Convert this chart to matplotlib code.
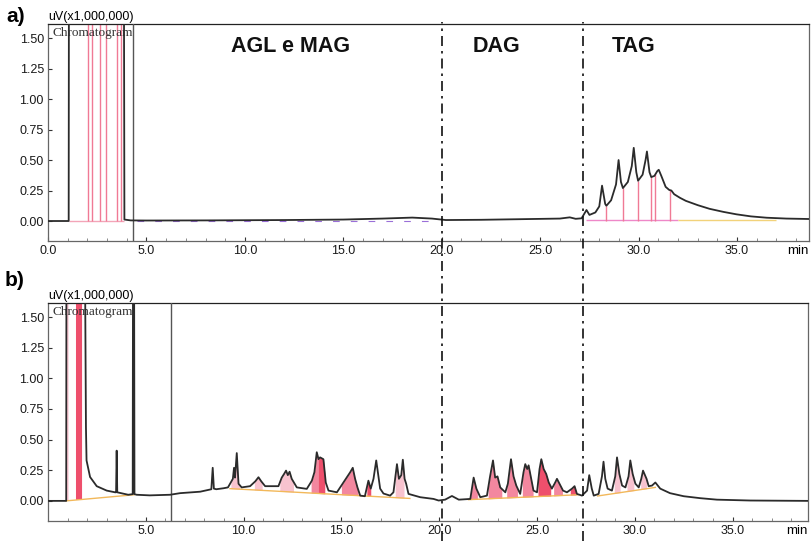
import numpy as np
import matplotlib.pyplot as plt
from matplotlib.lines import Line2D
from matplotlib.ticker import MultipleLocator
from matplotlib.transforms import blended_transform_factory

plt.rcParams['font.family'] = ['Liberation Sans', 'DejaVu Sans']

OFF = 5.0  # сигнал за пределами шкалы

# a) хроматограмма образца
time_a = [0.0, 1.05, 1.08, 3.82, 3.88, 4.2, 5.0, 8.0, 12.0, 15.0, 17.0, 18.5, 19.5,
          20.2, 22.0, 24.0, 26.0, 26.5, 26.8, 27.1, 27.35, 27.5, 27.8, 28.0, 28.14,
          28.3, 28.36, 28.6, 28.85, 28.98, 29.1, 29.2, 29.45, 29.65, 29.75, 29.88,
          29.97, 30.2, 30.35, 30.42, 30.55, 30.64, 30.8, 30.95, 31.02, 31.15, 31.37,
          31.55, 31.66, 31.8, 32.1, 32.4, 33.0, 33.6, 34.3, 34.96, 35.7, 36.5, 37.5, 38.8]
signal_a = [0.0, 0.0, OFF, OFF, 0.012, 0.005, 0.004, 0.005, 0.008, 0.012, 0.02, 0.028,
            0.02, 0.008, 0.01, 0.015, 0.02, 0.03, 0.018, 0.022, 0.09, 0.05, 0.07, 0.12,
            0.29, 0.14, 0.125, 0.17, 0.3, 0.50, 0.32, 0.27, 0.32, 0.45, 0.60, 0.40,
            0.33, 0.38, 0.5, 0.57, 0.40, 0.36, 0.37, 0.41, 0.42, 0.37, 0.28,
            0.255, 0.25, 0.22, 0.19, 0.165, 0.13, 0.10, 0.075, 0.055, 0.038, 0.027, 0.02, 0.016]
drops_a = [2.03, 2.23, 2.64, 2.94, 3.5, 3.7, 28.36, 29.2, 29.97, 30.64, 30.85, 31.57]
marker_a = 4.3

# b) хроматограмма второго образца
time_b = [0.0, 0.93, 0.96, 1.86, 1.9, 1.94, 1.97, 2.15, 2.49, 3.0, 3.43, 3.48, 3.51, 3.54,
          4.1, 4.33, 4.37, 4.42, 4.53, 5.2, 6.24, 6.75, 7.78, 8.35, 8.42, 8.48, 8.6,
          8.97, 9.2, 9.45, 9.51, 9.56, 9.65, 9.74, 9.9, 10.33, 10.6, 10.76, 10.9, 11.1,
          11.78, 11.95, 12.07, 12.17, 12.26, 12.35, 12.46, 12.72, 13.23, 13.49, 13.62,
          13.74, 13.83, 13.91, 14.08, 14.2, 14.34, 14.77, 15.1, 15.45, 15.58, 15.7,
          15.82, 15.96, 16.2, 16.38, 16.5, 16.64, 16.78, 16.9, 16.98, 17.15, 17.49,
          17.66, 17.84, 17.94, 18.06, 18.14, 18.23, 18.31, 18.43, 19.03, 19.71, 19.97,
          20.3, 20.65, 21.0, 21.59, 21.76, 21.9, 22.1, 22.44, 22.6, 22.75, 22.86, 22.98,
          23.12, 23.38, 23.51, 23.67, 23.8, 23.94, 24.14, 24.31, 24.4, 24.5, 24.57,
          24.69, 24.82, 25.0, 25.13, 25.22, 25.34, 25.47, 25.6, 25.76, 25.93, 26.02,
          26.15, 26.33, 26.53, 26.79, 26.92, 27.04, 27.3, 27.56, 27.67, 27.8, 27.9,
          28.15, 28.32, 28.4, 28.49, 28.61, 28.83, 29.0, 29.09, 29.21, 29.35, 29.52,
          29.68, 29.77, 29.89, 30.03, 30.2, 30.33, 30.42, 30.6, 30.71, 30.88, 31.05,
          31.3, 31.8, 32.5, 33.35, 34.2, 35.9, 38.85]
signal_b = [0.0, 0.0, OFF, OFF, 1.7, 0.6, 0.33, 0.195, 0.12, 0.084, 0.07, 0.07, 0.41, 0.07,
            0.05, 0.055, OFF, 0.055, 0.05, 0.045, 0.05, 0.063, 0.075, 0.095, 0.27, 0.1, 0.095,
            0.103, 0.11, 0.18, 0.27, 0.19, 0.39, 0.14, 0.11, 0.12, 0.16, 0.193, 0.16, 0.12,
            0.12, 0.19, 0.22, 0.247, 0.21, 0.238, 0.18, 0.11, 0.098, 0.165, 0.234,
            0.397, 0.34, 0.355, 0.34, 0.15, 0.084, 0.07, 0.15, 0.234, 0.27, 0.18,
            0.11, 0.043, 0.038, 0.165, 0.10, 0.18, 0.33, 0.19, 0.10, 0.06, 0.043,
            0.07, 0.30, 0.18, 0.21, 0.336, 0.18, 0.14, 0.057, 0.03, 0.016, 0.003,
            0.01, 0.04, 0.01, 0.016, 0.19, 0.10, 0.03, 0.043, 0.2, 0.33, 0.19, 0.2,
            0.11, 0.07, 0.14, 0.34, 0.2, 0.125, 0.057, 0.234, 0.30, 0.26, 0.29,
            0.19, 0.084, 0.07, 0.26, 0.34, 0.26, 0.22, 0.15, 0.10, 0.15, 0.18,
            0.14, 0.084, 0.07, 0.10, 0.12, 0.057, 0.043, 0.084, 0.21, 0.10, 0.043,
            0.057, 0.2, 0.32, 0.18, 0.10, 0.084, 0.2, 0.355, 0.22, 0.125, 0.11,
            0.2, 0.33, 0.22, 0.14, 0.11, 0.18, 0.247, 0.18, 0.12, 0.125, 0.15,
            0.10, 0.063, 0.038, 0.022, 0.01, 0.003, 0.0]
marker_b = 6.3

# линии базовой линии интегрирования: (начало, уровень, конец, уровень)
baselines_b = [(0.93, 0.0, 4.4, 0.05), (9.3, 0.10, 18.5, 0.02),
               (21.5, 0.01, 27.1, 0.05), (28.1, 0.04, 31.05, 0.11)]

# интегрированные пики: (начало, конец, цвет)
LIGHT, PINK, RED = '#f8c3cf', '#f3879f', '#ee4f6c'
peaks_b = [(0.93, 1.05, LIGHT), (1.43, 1.74, RED), (9.35, 9.8, LIGHT),
           (10.55, 10.95, LIGHT), (11.85, 12.55, LIGHT), (13.45, 13.8, PINK),
           (13.8, 14.15, RED), (15.0, 15.85, PINK), (16.3, 16.5, RED),
           (17.75, 18.2, LIGHT), (21.6, 21.95, PINK), (22.5, 23.2, PINK),
           (23.45, 24.0, PINK), (24.25, 24.8, PINK), (25.05, 25.7, RED),
           (25.85, 26.3, PINK), (26.7, 27.0, RED), (28.95, 29.25, LIGHT),
           (29.6, 29.95, LIGHT), (30.3, 30.6, LIGHT)]

# границы зон и подписи
zone_limits = [20.0, 27.15]
zone_names = ['AGL e MAG', 'DAG', 'TAG']
zone_centers = [12.3, 22.8, 29.75]


def setup_axes(ax, xticks, xlim):
    ax.set_xlim(*xlim)
    ax.set_ylim(-0.164, 1.615)
    ax.set_yticks(np.arange(0, 1.51, 0.25))
    ax.set_yticklabels([f'{v:.2f}' for v in np.arange(0, 1.51, 0.25)])
    ax.set_xticks(xticks)
    ax.set_xticklabels([f'{v:.1f}' for v in xticks])
    ax.xaxis.set_minor_locator(MultipleLocator(1))
    ax.tick_params(axis='both', which='major', labelsize=9, length=3,
                   direction='in', pad=3, colors='#333', labelcolor='#1a1a1a')
    ax.tick_params(axis='x', which='minor', length=2, direction='in', colors='#777')
    for s in ax.spines.values():
        s.set_color('#666')
        s.set_linewidth(0.9)
    ax.spines['top'].set_color('#222')
    ax.text(0.0, 1.005, 'uV(x1,000,000)', transform=ax.transAxes,
            ha='left', va='bottom', fontsize=9)
    ax.text(0.006, 0.985, 'Chromatogram', transform=ax.transAxes,
            ha='left', va='top', fontsize=9.5, family='Liberation Serif', color='#333')
    ax.text(1.0, -0.02, 'min', transform=ax.transAxes,
            ha='right', va='top', fontsize=9.5)


def fill_peak(ax, t, y, t0, t1, b, color):
    tt = np.concatenate([[t0], t[(t > t0) & (t < t1)], [t1]])
    yy = np.interp(tt, t, y)
    bb = np.interp(tt, [b[0], b[2]], [b[1], b[3]])
    ax.fill_between(tt, bb, yy, color=color, lw=0, zorder=2)


def main():
    fig = plt.figure(figsize=(8.11, 5.41), dpi=100)
    ax_a = fig.add_axes([0.0592, 0.5545, 0.9383, 0.4011])
    ax_b = fig.add_axes([0.0592, 0.0370, 0.9370, 0.4030])

    # --- a) ---
    setup_axes(ax_a, np.arange(0, 36, 5), (0, 38.65))
    ta, ya = np.array(time_a), np.array(signal_a)
    ax_a.hlines(0.0, 1.07, 3.85, color='#f3a5b8', lw=1, zorder=2)
    ax_a.hlines(0.006, 27.3, 32.0, color='#ee88c8', lw=1, zorder=2)
    ax_a.hlines(0.006, 32.0, 37.0, color='#f2d27a', lw=1, zorder=2)
    ax_a.hlines(0.0, 4.5, 19.5, color='#9a6fd8', lw=0.8, linestyles=(0, (6, 10)), zorder=2)
    for t in drops_a:
        ax_a.vlines(t, 0.0, np.interp(t, ta, ya), color='#f07a95', lw=1.0, zorder=2)
    ax_a.axvline(marker_a, color='#555', lw=1.0, zorder=3)
    ax_a.plot(ta, ya, color='#2b2b2b', lw=1.3, zorder=4)
    for name, xc in zip(zone_names, zone_centers):
        ax_a.text(xc, 1.43, name, ha='center', va='center', fontsize=15.5,
                  fontweight='bold', color='#111')

    # --- b) ---
    setup_axes(ax_b, np.arange(5, 36, 5), (0, 38.85))
    tb, yb = np.array(time_b), np.array(signal_b)
    for t0, t1, color in peaks_b:
        b = next(s for s in baselines_b if s[0] <= t0 <= s[2])
        fill_peak(ax_b, tb, yb, t0, t1, b, color)
    for b in baselines_b:
        ax_b.plot([b[0], b[2]], [b[1], b[3]], color='#f2b85a', lw=1.0, zorder=3)
    ax_b.axvline(marker_b, color='#555', lw=1.0, zorder=3)
    ax_b.plot(tb, yb, color='#2b2b2b', lw=1.3, zorder=4)

    # границы зон через обе панели
    trans = blended_transform_factory(ax_a.transData, fig.transFigure)
    for x in zone_limits:
        fig.add_artist(Line2D([x, x], [0.0, 0.96], transform=trans, color='#111',
                              lw=1.2, linestyle=(0, (6, 3, 1.5, 3)), zorder=10))

    fig.text(0.008, 1 - 16 / 541, 'a)', fontsize=15, fontweight='bold', va='center')
    fig.text(0.006, 1 - 281 / 541, 'b)', fontsize=15, fontweight='bold', va='center')

    fig.savefig('out.png', dpi=100)


if __name__ == "__main__":
    main()
